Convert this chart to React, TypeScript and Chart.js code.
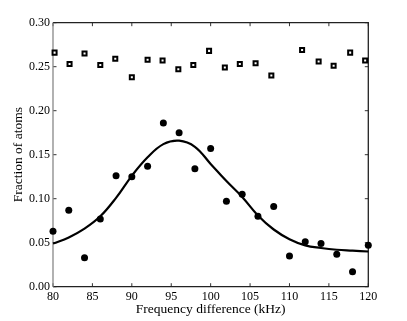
import { useEffect, useRef } from 'react';
import { Chart, registerables } from 'chart.js';

Chart.register(...registerables);

// Open squares (upper series)
const squareX = [80.2, 82.1, 84.0, 86.0, 87.9, 90.0, 92.0, 93.9, 95.9, 97.8, 99.8, 101.8, 103.7, 105.7, 107.7, 111.6, 113.7, 115.6, 117.7, 119.6];
const squareY = [0.266, 0.253, 0.265, 0.252, 0.259, 0.238, 0.258, 0.257, 0.247, 0.252, 0.268, 0.249, 0.253, 0.254, 0.240, 0.269, 0.256, 0.251, 0.266, 0.257];

// Filled circles (measured fraction)
const circleX = [80, 82, 84, 86, 88, 90, 92, 94, 96, 98, 100, 102, 104, 106, 108, 110, 112, 114, 116, 118, 120];
const circleY = [0.063, 0.087, 0.033, 0.077, 0.126, 0.125, 0.137, 0.186, 0.175, 0.134, 0.157, 0.097, 0.105, 0.080, 0.091, 0.035, 0.051, 0.049, 0.037, 0.017, 0.047];

// Fitted curve
const fitX = [80, 82, 84, 86, 88, 90, 92, 94, 96, 98, 100, 102, 104, 106, 108, 110, 112, 114, 116, 118, 120];
const fitY = [0.049, 0.056, 0.066, 0.080, 0.101, 0.126, 0.147, 0.162, 0.166, 0.159, 0.1395, 0.120, 0.102, 0.081, 0.065, 0.054, 0.047, 0.044, 0.042, 0.041, 0.040];

const xTicks = [80, 85, 90, 95, 100, 105, 110, 115, 120];
const yTicks = [0, 0.05, 0.1, 0.15, 0.2, 0.25, 0.3];

const FONT = "'Liberation Serif', 'Times New Roman', serif";

const framePlugin = {
  id: 'frame',
  beforeDatasetsDraw(chart: any) {
    const { ctx, chartArea, scales } = chart;
    const { left, right, top, bottom } = chartArea;
    const x = scales.x;
    const y = scales.y;
    const tl = 3.5;
    ctx.save();
    ctx.lineWidth = 1;
    ctx.strokeStyle = '#333';
    ctx.beginPath();
    for (const v of xTicks) {
      const px = x.getPixelForValue(v);
      ctx.moveTo(px, bottom);
      ctx.lineTo(px, bottom - tl);
      ctx.moveTo(px, top);
      ctx.lineTo(px, top + tl);
    }
    for (const v of yTicks) {
      const py = y.getPixelForValue(v);
      ctx.moveTo(left, py);
      ctx.lineTo(left + tl, py);
      ctx.moveTo(right, py);
      ctx.lineTo(right - tl, py);
    }
    ctx.stroke();
    ctx.lineWidth = 1.3;
    ctx.strokeStyle = '#222';
    ctx.beginPath();
    ctx.moveTo(left, top);
    ctx.lineTo(right, top);
    ctx.lineTo(right, bottom);
    ctx.lineTo(left, bottom);
    ctx.stroke();
    ctx.strokeStyle = '#888';
    ctx.lineWidth = 1.3;
    ctx.beginPath();
    ctx.moveTo(left, top);
    ctx.lineTo(left, bottom);
    ctx.stroke();
    ctx.restore();
  },
};

export default function App() {
  const canvasRef = useRef<HTMLCanvasElement | null>(null);

  useEffect(() => {
    const canvas = canvasRef.current;
    if (!canvas) return;
    const chart = new Chart(canvas, {
      type: 'scatter',
      data: {
        datasets: [
          {
            label: 'fit',
            data: fitX.map((v, i) => ({ x: v, y: fitY[i] })),
            showLine: true,
            borderColor: '#000',
            borderWidth: 2.2,
            pointRadius: 0,
            tension: 0.4,
            clip: false,
          } as any,
          {
            label: 'circles',
            data: circleX.map((v, i) => ({ x: v, y: circleY[i] })),
            pointStyle: 'circle',
            pointRadius: 3.5,
            backgroundColor: '#000',
            borderColor: '#000',
            borderWidth: 0,
            clip: false,
          } as any,
          {
            label: 'squares',
            data: squareX.map((v, i) => ({ x: v, y: squareY[i] })),
            pointStyle: 'rect',
            pointRadius: 2.85,
            backgroundColor: '#fff',
            borderColor: '#000',
            borderWidth: 2,
            clip: false,
          } as any,
        ],
      },
      options: {
        responsive: false,
        animation: false,
        devicePixelRatio: 1,
        layout: { padding: { top: 22.7, right: 38.7, bottom: 0, left: 0 } },
        plugins: {
          legend: { display: false },
          tooltip: { enabled: false },
        },
        scales: {
          x: {
            type: 'linear',
            min: 80,
            max: 120,
            afterBuildTicks: (s: any) => {
              s.ticks = xTicks.map((v) => ({ value: v }));
            },
            ticks: {
              padding: 3,
              maxRotation: 0,
              color: '#000',
              font: { family: FONT, size: 12 },
              callback: (v: any) => String(v),
            },
            grid: { display: false, drawTicks: false },
            border: { display: false },
            title: {
              display: true,
              text: 'Frequency difference (kHz)',
              color: '#000',
              font: { family: FONT, size: 13.5 },
              padding: { top: 0, bottom: 3 },
            },
            afterFit: (s: any) => {
              s.height = 34.3;
            },
          },
          y: {
            type: 'linear',
            min: 0,
            max: 0.3,
            afterBuildTicks: (s: any) => {
              s.ticks = yTicks.map((v) => ({ value: v }));
            },
            ticks: {
              padding: 3,
              color: '#000',
              font: { family: FONT, size: 12 },
              callback: (v: any) => Number(v).toFixed(2),
            },
            grid: { display: false, drawTicks: false },
            border: { display: false },
            title: {
              display: true,
              text: 'Fraction of atoms',
              color: '#000',
              font: { family: FONT, size: 13.5 },
              padding: { top: 10.5, bottom: 0 },
            },
            afterFit: (s: any) => {
              s.width = 53;
            },
          },
        },
      },
      plugins: [framePlugin],
    });
    return () => chart.destroy();
  }, []);

  return (
    <div style={{ position: 'absolute', left: 0, top: 0, width: 407, height: 321, background: '#fff' }}>
      <canvas ref={canvasRef} width={407} height={321} style={{ display: 'block' }} />
    </div>
  );
}
